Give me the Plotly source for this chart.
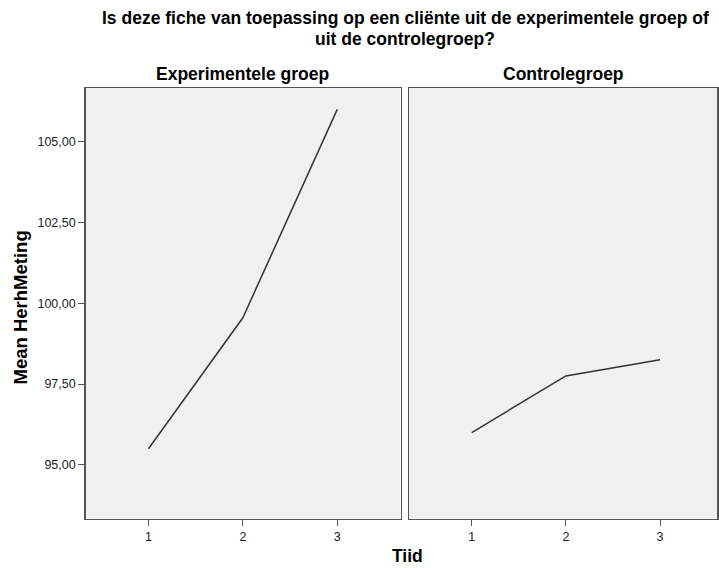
import plotly.graph_objects as go

tiid = [1, 2, 3]
exp_values = [95.5, 99.55, 106.0]
ctrl_values = [96.0, 97.75, 98.25]
y_ticks = [95.0, 97.5, 100.0, 102.5, 105.0]
y_ticktext = ["95,00", "97,50", "100,00", "102,50", "105,00"]
panel_titles = ["Experimentele groep", "Controlegroep"]
title_lines = ["Is deze fiche van toepassing op een cliënte uit de experimentele groep of",
               "uit de controlegroep?"]
x_title = "Tiid"
y_title = "Mean HerhMeting"

W, H = 719, 568


def PX(p):
    return p / W


def PY(p):
    return 1 - p / H


fig = go.Figure()
fig.add_trace(go.Scatter(x=tiid, y=exp_values, mode="lines", xaxis="x", yaxis="y",
                         line=dict(color="#333333", width=1.5), showlegend=False))
fig.add_trace(go.Scatter(x=tiid, y=ctrl_values, mode="lines", xaxis="x2", yaxis="y2",
                         line=dict(color="#333333", width=1.5), showlegend=False))

font = "Liberation Sans, Arial, sans-serif"
yd = [PY(518.5), PY(88)]
axis_common = dict(showline=True, linecolor="#555555", linewidth=1.5, mirror=True,
                   showgrid=False, zeroline=False, ticklen=6,
                   tickcolor="#555555", tickfont=dict(family=font, size=12.5, color="#222222"))

fig.update_layout(
    width=W, height=H,
    margin=dict(l=0, r=0, t=0, b=0),
    paper_bgcolor="white", plot_bgcolor="#f0f0f0",
    hovermode=False,
    xaxis=dict(domain=[PX(85.7), PX(400.5)], range=[0.335, 3.67], tickvals=tiid,
               ticktext=[str(t) for t in tiid], ticks="outside", **axis_common),
    yaxis=dict(domain=yd, range=[93.34, 106.66], tickvals=y_ticks, ticktext=y_ticktext,
               ticks="outside", **axis_common),
    xaxis2=dict(domain=[PX(409), PX(717)], range=[0.334, 3.605], tickvals=tiid,
                ticktext=[str(t) for t in tiid], anchor="y2", ticks="outside", **axis_common),
    yaxis2=dict(domain=yd, range=[93.34, 106.66], tickvals=y_ticks, showticklabels=False,
                anchor="x2", ticks="", **axis_common),
)

bold = dict(family=font, size=17.5, color="black")
tfont = dict(family=font, size=17.5, color="black")
ann = [
    dict(text="<b>" + title_lines[0] + "</b>", x=PX(405), y=PY(18.5), font=tfont, yanchor="middle"),
    dict(text="<b>" + title_lines[1] + "</b>", x=PX(405), y=PY(38.5), font=tfont, yanchor="middle"),
    dict(text="<b>" + panel_titles[0] + "</b>", x=PX(242), y=PY(74), font=bold, yanchor="middle"),
    dict(text="<b>" + panel_titles[1] + "</b>", x=PX(563), y=PY(74), font=bold, yanchor="middle"),
    dict(text="<b>" + y_title + "</b>", x=PX(20), y=PY(307.5), textangle=-90, yanchor="middle",
         font=dict(family=font, size=18.5, color="black")),
    dict(text="<b>" + x_title + "</b>", x=PX(407), y=0, font=bold, yanchor="bottom"),
]
for a in ann:
    a.update(xref="paper", yref="paper", xanchor="center", showarrow=False)
fig.update_layout(annotations=ann)

fig.write_html("out.html",
               config={"displayModeBar": False, "staticPlot": True},
               post_script="document.body.style.margin='0';document.body.style.overflow='hidden';")
